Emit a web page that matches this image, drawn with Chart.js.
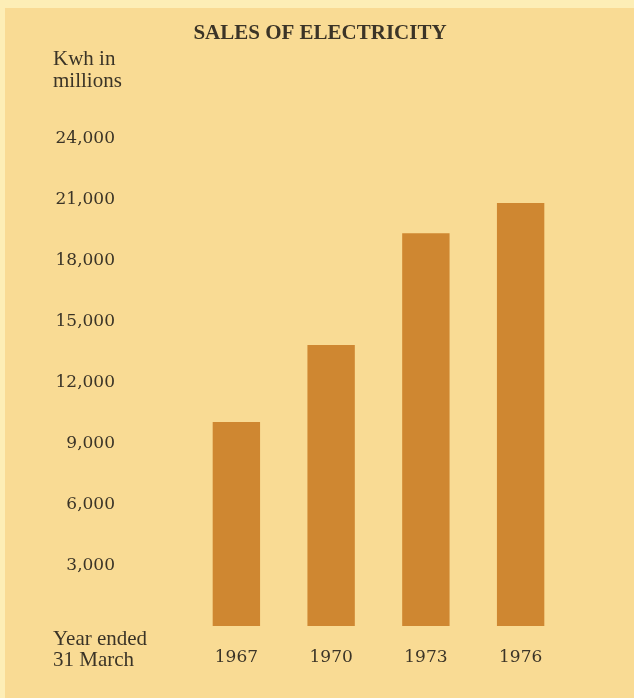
<!DOCTYPE html>
<html>
<head>
<meta charset="utf-8">
<title>Sales of Electricity</title>
<script src="https://cdn.jsdelivr.net/npm/chart.js@4.4.1/dist/chart.umd.min.js"></script>
<style>
  html, body { margin: 0; padding: 0; background: #f9db94; }
</style>
</head>
<body>
<canvas id="salesChart" width="634" height="698"></canvas>
<script>
// Year ended 31 March, Kwh in millions
const years = ["1967", "1970", "1973", "1976"];
const sales = [10050, 13850, 19350, 20850];
const yTicks = [3000, 6000, 9000, 12000, 15000, 18000, 21000, 24000];

const titleText = "SALES OF ELECTRICITY";
const unitLines = ["Kwh in", "millions"];
const yearLines = ["Year ended", "31 March"];

const PAPER = "#f9db94";
const PAPER_EDGE = "#fdeeb6";
const BAR = "#cf8731";
const INK = "#3b3427";

// paper background, title and the two corner captions
const paper = {
  id: "paper",
  beforeDraw(chart) {
    const c = chart.ctx;
    c.save();
    c.fillStyle = PAPER;
    c.fillRect(0, 0, chart.width, chart.height);
    c.fillStyle = PAPER_EDGE;
    c.fillRect(0, 0, chart.width, 8);
    c.fillRect(0, 0, 5, chart.height);
    c.restore();
  },
  afterDraw(chart) {
    const c = chart.ctx;
    c.save();
    c.fillStyle = INK;
    c.textBaseline = "middle";
    c.font = "bold 21px 'Liberation Serif'";
    c.textAlign = "center";
    c.fillText(titleText, 320, 34);
    c.font = "21px 'Liberation Serif'";
    c.textAlign = "left";
    unitLines.forEach((t, i) => c.fillText(t, 53, 59 + i * 22));
    yearLines.forEach((t, i) => c.fillText(t, 53, 639 + i * 21.5));
    c.restore();
  }
};

new Chart(document.getElementById("salesChart"), {
  type: "bar",
  data: {
    labels: years,
    datasets: [{
      data: sales,
      backgroundColor: BAR,
      borderWidth: 0,
      categoryPercentage: 1,
      barPercentage: 0.5
    }]
  },
  options: {
    responsive: false,
    animation: false,
    layout: { padding: { top: 139, right: 66, bottom: 0, left: 0 } },
    plugins: { legend: { display: false }, tooltip: { enabled: false } },
    scales: {
      x: {
        grid: { display: false, drawTicks: false },
        border: { display: false },
        ticks: { color: INK, font: { family: "'DejaVu Serif'", size: 17 }, padding: 21 },
        afterFit(scale) { scale.height = 72; }
      },
      y: {
        min: 0,
        max: 24000,
        grid: { display: false, drawTicks: false },
        border: { display: false },
        afterBuildTicks(scale) { scale.ticks = yTicks.map(v => ({ value: v })); },
        ticks: {
          color: INK,
          font: { family: "'DejaVu Serif'", size: 17 },
          padding: 74,
          callback: v => v.toLocaleString("en-US")
        },
        afterFit(scale) {
          // the wide label gap should not eat into the plot height
          scale.width = 189;
          scale.paddingTop = 0;
          scale.paddingBottom = 0;
        }
      }
    }
  },
  plugins: [paper]
});
</script>
</body>
</html>
